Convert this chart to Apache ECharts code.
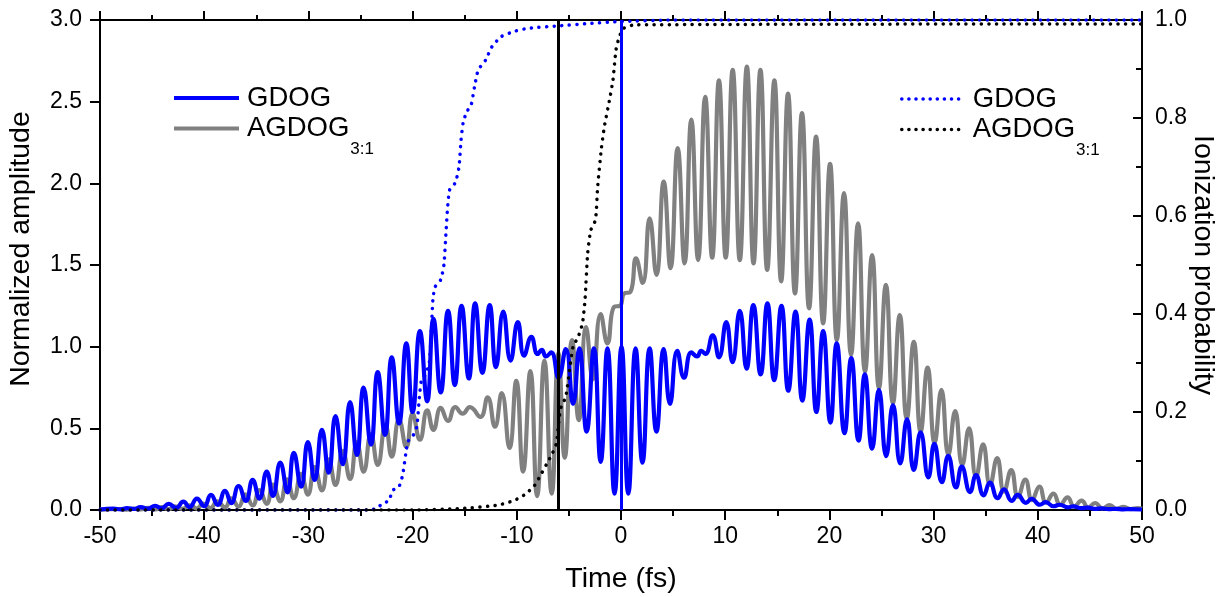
<!DOCTYPE html>
<html>
<head>
<meta charset="utf-8">
<script src="https://cdn.jsdelivr.net/npm/echarts@6/dist/echarts.min.js"></script>
<style>
  html, body { margin: 0; padding: 0; background: #fff; }
  #chart { width: 1225px; height: 597px; }
</style>
</head>
<body>
<div id="chart"></div>
<script>
// ---- Data ----
// Time axis ticks (fs)
const timeTicks = [-50, -40, -30, -20, -10, 0, 10, 20, 30, 40, 50];

// GDOG normalized amplitude: [time (fs), amplitude] at successive peaks / troughs
const gdogAmplitude = [
  [-50, 0.003],
  [-48.7, 0.008], [-48.0, 0.004], [-47.4, 0.012], [-46.7, 0.006],
  [-46.1, 0.018], [-45.4, 0.008], [-44.7, 0.026], [-44.1, 0.010],
  [-43.4, 0.037], [-42.7, 0.013], [-42.0, 0.051], [-41.4, 0.017],
  [-40.7, 0.070], [-40.0, 0.023], [-39.35, 0.092], [-38.7, 0.031],
  [-38.0, 0.118], [-37.4, 0.042], [-36.7, 0.147], [-36.0, 0.055],
  [-35.35, 0.184], [-34.7, 0.070], [-34.0, 0.235], [-33.4, 0.087],
  [-32.7, 0.290], [-32.0, 0.108], [-31.4, 0.350], [-30.7, 0.143],
  [-30.05, 0.415], [-29.4, 0.184], [-28.7, 0.490], [-28.05, 0.228],
  [-27.4, 0.575], [-26.7, 0.280], [-26.0, 0.660], [-25.35, 0.337],
  [-24.7, 0.750], [-24.0, 0.400], [-23.35, 0.845], [-22.65, 0.460],
  [-22.0, 0.935], [-21.3, 0.530], [-20.6, 1.020], [-20.0, 0.600],
  [-19.3, 1.095], [-18.6, 0.665], [-18.0, 1.170], [-17.3, 0.720],
  [-16.6, 1.220], [-15.95, 0.765], [-15.3, 1.250], [-14.6, 0.805],
  [-14.0, 1.265], [-13.3, 0.840], [-12.6, 1.255], [-12.0, 0.875],
  [-11.3, 1.215], [-10.6, 0.915], [-9.9, 1.150], [-9.3, 0.945],
  [-8.6, 1.060], [-8.0, 0.955], [-7.6, 0.980], [-7.2, 0.940],
  [-6.7, 0.965], [-6.0, 0.810], [-5.3, 0.985], [-4.6, 0.650],
  [-4.0, 0.990], [-3.3, 0.480], [-2.6, 0.990], [-1.95, 0.295],
  [-1.3, 0.990], [-0.62, 0.100], [0.05, 1.000], [0.7, 0.100],
  [1.4, 0.990], [2.06, 0.290], [2.75, 0.990], [3.4, 0.480],
  [4.1, 0.985], [4.7, 0.650], [5.4, 0.975], [6.05, 0.810],
  [6.75, 0.965], [7.3, 0.940], [7.7, 0.975], [8.1, 0.955],
  [8.8, 1.070], [9.4, 0.935], [10.1, 1.150], [10.7, 0.905],
  [11.4, 1.220], [12.05, 0.865], [12.7, 1.255], [13.4, 0.830],
  [14.05, 1.265], [14.7, 0.795], [15.4, 1.250], [16.05, 0.730],
  [16.75, 1.215], [17.4, 0.670], [18.1, 1.165], [18.75, 0.600],
  [19.4, 1.095], [20.1, 0.535], [20.7, 1.020], [21.45, 0.470],
  [22.1, 0.930], [22.8, 0.425], [23.4, 0.830], [24.1, 0.375],
  [24.75, 0.735], [25.45, 0.330], [26.1, 0.643], [26.8, 0.285],
  [27.45, 0.555], [28.1, 0.245], [28.75, 0.475], [29.5, 0.200],
  [30.07, 0.405], [30.8, 0.170], [31.4, 0.332], [32.15, 0.138],
  [32.7, 0.265], [33.5, 0.110], [34.07, 0.214], [34.8, 0.090],
  [35.4, 0.167], [36.15, 0.072], [36.75, 0.127], [37.5, 0.056],
  [38.07, 0.092], [38.85, 0.044], [39.4, 0.068], [40.2, 0.032],
  [40.75, 0.048], [41.5, 0.023], [42.1, 0.032], [42.9, 0.016],
  [43.4, 0.022], [44.2, 0.011], [44.8, 0.015], [45.5, 0.007],
  [46.1, 0.010], [46.8, 0.005], [47.5, 0.007], [48.2, 0.004],
  [48.8, 0.005], [50, 0.003]
];

// AGDOG(3:1) normalized amplitude: [time (fs), amplitude]
const agdogAmplitude = [
  [-50, 0.002],
  [-48.0, 0.006], [-47.4, 0.002], [-46.7, 0.009], [-46.1, 0.003],
  [-45.4, 0.013], [-44.7, 0.004], [-44.1, 0.018], [-43.4, 0.005],
  [-42.8, 0.023], [-42.1, 0.007], [-41.4, 0.029], [-40.7, 0.009],
  [-40.1, 0.039], [-39.4, 0.012], [-38.75, 0.053], [-38.0, 0.016],
  [-37.4, 0.072], [-36.7, 0.021], [-36.05, 0.096], [-35.35, 0.028],
  [-34.7, 0.122], [-34.0, 0.038], [-33.4, 0.155], [-32.7, 0.053],
  [-32.05, 0.188], [-31.4, 0.072], [-30.7, 0.222], [-30.05, 0.094],
  [-29.4, 0.262], [-28.7, 0.120], [-28.05, 0.310], [-27.4, 0.153],
  [-26.7, 0.362], [-26.0, 0.190], [-25.35, 0.415], [-24.7, 0.235],
  [-24.0, 0.465], [-23.35, 0.276], [-22.6, 0.520], [-22.0, 0.327],
  [-21.3, 0.555], [-20.6, 0.385], [-20.0, 0.590], [-19.3, 0.430],
  [-18.6, 0.610], [-18.0, 0.490], [-17.3, 0.625], [-16.6, 0.545],
  [-15.9, 0.630], [-15.2, 0.590], [-14.5, 0.630], [-13.5, 0.570],
  [-12.8, 0.690], [-12.1, 0.510], [-11.45, 0.715], [-10.7, 0.380],
  [-10.05, 0.790], [-9.4, 0.235], [-8.7, 0.850], [-8.05, 0.085],
  [-7.35, 0.915], [-6.65, 0.100], [-6.0, 0.960], [-5.4, 0.320],
  [-4.7, 1.040], [-4.05, 0.550], [-3.35, 1.120], [-2.7, 0.800],
  [-1.95, 1.200], [-1.3, 1.020], [-0.65, 1.245], [-0.1, 1.250],
  [0.3, 1.325], [0.9, 1.335], [1.44, 1.540], [2.08, 1.390],
  [2.75, 1.786], [3.4, 1.440], [4.1, 2.010], [4.75, 1.480],
  [5.44, 2.215], [6.1, 1.510], [6.75, 2.390], [7.4, 1.530],
  [8.08, 2.530], [8.75, 1.545], [9.4, 2.630], [10.05, 1.545],
  [10.72, 2.695], [11.4, 1.530], [12.08, 2.715], [12.72, 1.510],
  [13.38, 2.695], [14.03, 1.470], [14.72, 2.630], [15.37, 1.400],
  [16.03, 2.550], [16.7, 1.325], [17.37, 2.430], [18.05, 1.235],
  [18.72, 2.286], [19.4, 1.143], [20.06, 2.120], [20.72, 1.040],
  [21.4, 1.940], [22.08, 0.950], [22.75, 1.755], [23.42, 0.847],
  [24.1, 1.560], [24.76, 0.745], [25.42, 1.378], [26.1, 0.653],
  [26.75, 1.194], [27.43, 0.560], [28.1, 1.030], [28.76, 0.480],
  [29.42, 0.872], [30.1, 0.410], [30.75, 0.735], [31.42, 0.337],
  [32.07, 0.605], [32.75, 0.276], [33.4, 0.500], [34.08, 0.204],
  [34.75, 0.402], [35.42, 0.153], [36.1, 0.317], [36.76, 0.112],
  [37.45, 0.245], [38.1, 0.080], [38.8, 0.186], [39.45, 0.060],
  [40.15, 0.143], [40.8, 0.045], [41.5, 0.100], [42.15, 0.032],
  [42.85, 0.077], [43.5, 0.022], [44.2, 0.057], [44.85, 0.015],
  [45.5, 0.043], [46.2, 0.010], [46.9, 0.030], [47.55, 0.007],
  [48.25, 0.020], [48.9, 0.005], [49.6, 0.012], [50, 0.008]
];

// Ionization probability (right axis): [time (fs), probability]
const gdogIonization = [
  [-50, 0], [-24.2, 0], [-23.4, 0.004], [-22.8, 0.015], [-22.3, 0.018],
  [-21.9, 0.040], [-21.3, 0.048], [-20.95, 0.072], [-20.65, 0.116],
  [-20.45, 0.140], [-20.0, 0.150], [-19.6, 0.170], [-19.35, 0.230],
  [-19.15, 0.265], [-18.8, 0.275], [-18.4, 0.300], [-18.2, 0.367],
  [-18.05, 0.430], [-17.85, 0.455], [-17.3, 0.470], [-17.0, 0.500],
  [-16.8, 0.565], [-16.65, 0.615], [-16.45, 0.653], [-15.9, 0.668],
  [-15.55, 0.700], [-15.35, 0.755], [-15.15, 0.790], [-14.8, 0.813],
  [-14.4, 0.825], [-14.05, 0.864], [-13.7, 0.898], [-13.0, 0.918],
  [-12.4, 0.945], [-11.5, 0.966], [-10.2, 0.977], [-8.9, 0.983],
  [-6.0, 0.988], [-3.0, 0.993], [0, 0.997], [5, 1.0], [50, 1.0]
];
const agdogIonization = [
  [-50, 0], [-20, 0], [-15.3, 0.003], [-11.8, 0.010], [-10.2, 0.020],
  [-9.2, 0.032], [-8.3, 0.050], [-7.8, 0.068], [-7.1, 0.095], [-6.6, 0.115],
  [-6.2, 0.136], [-5.95, 0.185], [-5.75, 0.210], [-5.3, 0.231], [-4.9, 0.292],
  [-4.6, 0.333], [-4.1, 0.354], [-3.7, 0.381], [-3.45, 0.430], [-3.2, 0.524],
  [-2.9, 0.571], [-2.45, 0.592], [-2.24, 0.660], [-1.9, 0.735], [-1.6, 0.782],
  [-1.1, 0.837], [-0.77, 0.878], [-0.48, 0.939], [-0.16, 0.966], [0.26, 0.983],
  [1.3, 0.990], [50, 0.992]
];

// Vertical marker times (fs): AGDOG (black), GDOG (blue)
const markerTimes = [-6, 0];

// ---- Chart ----
const FONT = '"Liberation Sans", Arial, sans-serif';
const BLUE = '#0000ff';
const GRAY = '#808080';

const legendRich = {
  m: { fontSize: 27.5, fontFamily: FONT, color: '#000', lineHeight: 31, verticalAlign: 'middle', padding: [0, 0, 0, 3] },
  s: { fontSize: 17, fontFamily: FONT, color: '#000', lineHeight: 1, verticalAlign: 'top', padding: [28, 0, 0, 1] }
};
function legendFormatter(name) {
  return name.indexOf('AGDOG') === 0 ? '{m|AGDOG}{s|3:1}' : '{m|GDOG}';
}

const dotStyle = (color) => ({ color, width: 3.5, type: [0.1, 7.5], cap: 'round' });

const chart = echarts.init(document.getElementById('chart'), null, { renderer: 'canvas' });
chart.setOption({
  animation: false,
  backgroundColor: '#fff',
  textStyle: { fontFamily: FONT },
  grid: { left: 100, right: 83, top: 20, bottom: 87, containLabel: false, outerBoundsMode: 'none' },
  legend: [
    {
      data: ['GDOG', 'AGDOG'],
      orient: 'vertical', left: 172, top: 84, padding: 0,
      itemWidth: 65, itemHeight: 12, itemGap: 1,
      itemStyle: { opacity: 0 },
      lineStyle: { width: 4 },
      formatter: legendFormatter,
      textStyle: { fontFamily: FONT, fontSize: 27.5, color: '#000', rich: legendRich },
      selectedMode: false
    },
    {
      data: ['GDOG ionization', 'AGDOG ionization'],
      orient: 'vertical', left: 900, top: 85, padding: 0,
      itemWidth: 63, itemHeight: 12, itemGap: 1,
      itemStyle: { opacity: 0 },
      lineStyle: { width: 3.5, type: [0.1, 7], cap: 'round' },
      formatter: legendFormatter,
      textStyle: { fontFamily: FONT, fontSize: 27.5, color: '#000', rich: legendRich },
      selectedMode: false
    }
  ],
  xAxis: [
    {
      type: 'value', position: 'bottom', min: timeTicks[0], max: timeTicks[timeTicks.length - 1], interval: 10,
      name: 'Time (fs)', nameLocation: 'middle', nameGap: 55, nameMoveOverlap: false,
      nameTextStyle: { fontSize: 28.5, color: '#000', fontFamily: FONT },
      axisLine: { onZero: false, lineStyle: { color: '#000', width: 2 } },
      axisTick: { show: true, inside: false, length: 10, lineStyle: { color: '#000', width: 2 } },
      minorTick: { show: true, splitNumber: 2, length: 6, lineStyle: { color: '#000', width: 2 } },
      axisLabel: { fontSize: 23, color: '#000', margin: 15, fontFamily: FONT },
      splitLine: { show: false }
    },
    {
      type: 'value', position: 'top', min: timeTicks[0], max: timeTicks[timeTicks.length - 1], interval: 10,
      axisLine: { onZero: false, lineStyle: { color: '#000', width: 2 } },
      axisTick: { show: true, inside: false, length: 9, lineStyle: { color: '#000', width: 2 } },
      minorTick: { show: true, splitNumber: 2, length: 5, lineStyle: { color: '#000', width: 2 } },
      axisLabel: { show: false },
      splitLine: { show: false }
    }
  ],
  yAxis: [
    {
      type: 'value', position: 'left', min: 0, max: 3, interval: 0.5,
      name: 'Normalized amplitude', nameLocation: 'middle', nameGap: 64, nameRotate: 90,
      nameTextStyle: { fontSize: 28.5, color: '#000', fontFamily: FONT, padding: [0, 0, 0, 32] },
      axisLine: { show: true, onZero: false, lineStyle: { color: '#000', width: 2 } },
      axisTick: { show: true, inside: false, length: 10, lineStyle: { color: '#000', width: 2 } },
      axisLabel: { fontSize: 23, color: '#000', margin: 18, fontFamily: FONT, formatter: v => v.toFixed(1) },
      splitLine: { show: false }
    },
    {
      type: 'value', position: 'right', min: 0, max: 1, interval: 0.2,
      name: 'Ionization probability', nameLocation: 'middle', nameGap: 46, nameRotate: -90,
      nameMoveOverlap: false,
      nameTextStyle: { fontSize: 28.5, color: '#000', fontFamily: FONT },
      axisLine: { show: true, onZero: false, lineStyle: { color: '#000', width: 2 } },
      axisTick: { show: true, inside: true, length: 9, lineStyle: { color: '#000', width: 2 } },
      minorTick: { show: true, splitNumber: 2, length: 6, lineStyle: { color: '#000', width: 2 } },
      axisLabel: { fontSize: 23, color: '#000', margin: 13, fontFamily: FONT, formatter: v => v.toFixed(1) },
      splitLine: { show: false }
    }
  ],
  series: [
    {
      name: 'AGDOG', type: 'line', xAxisIndex: 0, yAxisIndex: 0,
      data: agdogAmplitude, showSymbol: false, symbol: 'none', smooth: 0.5,
      lineStyle: { color: GRAY, width: 4.2 }, itemStyle: { color: GRAY }
    },
    {
      name: 'GDOG', type: 'line', xAxisIndex: 0, yAxisIndex: 0,
      data: gdogAmplitude, showSymbol: false, symbol: 'none', smooth: 0.5,
      lineStyle: { color: BLUE, width: 4.2 }, itemStyle: { color: BLUE }
    },
    {
      name: 'GDOG ionization', type: 'line', xAxisIndex: 0, yAxisIndex: 1,
      data: gdogIonization, showSymbol: false, symbol: 'none', smooth: 0.2,
      lineStyle: dotStyle(BLUE), itemStyle: { color: BLUE }
    },
    {
      name: 'AGDOG ionization', type: 'line', xAxisIndex: 0, yAxisIndex: 1,
      data: agdogIonization, showSymbol: false, symbol: 'none', smooth: 0.2,
      lineStyle: dotStyle('#000'), itemStyle: { color: '#000' },
      markLine: {
        silent: true, symbol: 'none', animation: false,
        label: { show: false },
        data: [
          { xAxis: markerTimes[0], lineStyle: { color: '#000', width: 3, type: 'solid' } },
          { xAxis: markerTimes[1], lineStyle: { color: BLUE, width: 3, type: 'solid' } }
        ]
      }
    }
  ]
});
</script>
</body>
</html>
